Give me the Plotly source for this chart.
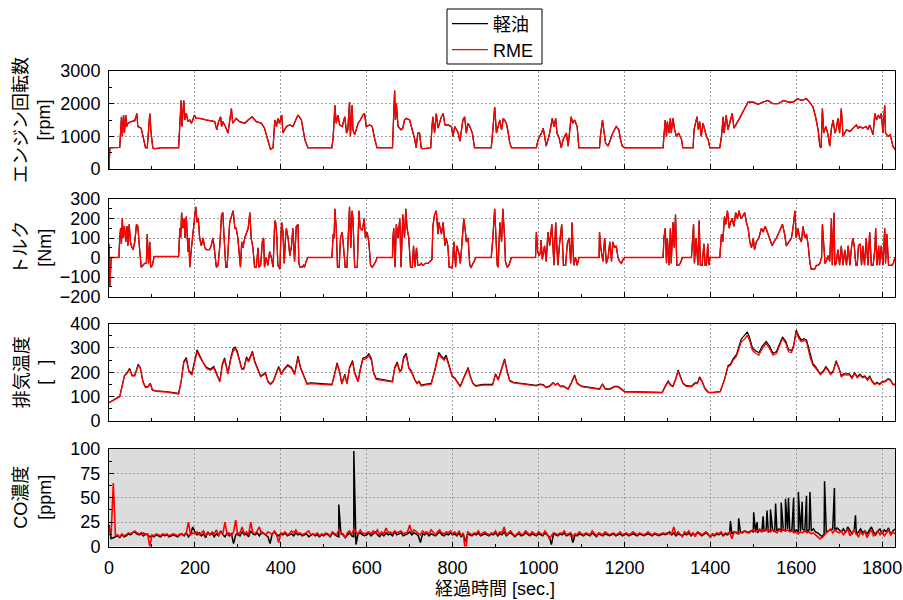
import plotly.graph_objects as go

# ---------------- data ----------------
# Engine speed [rpm]
speed_t = [0, 2, 25, 27, 29, 31, 34, 36, 39, 41, 44, 52, 60, 65, 67, 75, 85, 89, 92, 95, 98, 102, 106, 122, 162,
           165, 168, 170, 174, 177, 180, 184, 188, 192, 199, 203, 211, 227, 246, 251, 255, 260, 262, 265, 271, 277, 281, 285, 288, 296,
           304, 316, 324, 333, 343, 355, 362, 370, 376, 382, 386, 390, 393, 397, 402, 405, 413, 421, 428, 440, 448, 456, 463, 519,
           522, 526, 529, 533, 537, 543, 549, 553, 556, 560, 562, 566, 568, 572, 576, 580, 585, 591, 595, 599, 607, 613, 619, 624, 660,
           661, 665, 667, 669, 673, 677, 680, 684, 688, 692, 700, 708, 712, 715, 719, 723, 727, 731, 749,
           752, 754, 758, 762, 766, 770, 774, 778, 782, 789, 797, 801, 805, 813, 817, 824, 828, 832, 836, 840, 846, 851, 890,
           894, 898, 902, 906, 910, 914, 918, 921, 925, 929, 933, 937, 995,
           999, 1003, 1007, 1011, 1014, 1018, 1026, 1032, 1036, 1040, 1043, 1048, 1053, 1057, 1061, 1065, 1069, 1073, 1076, 1080, 1084, 1090, 1094, 1142,
           1144, 1149, 1152, 1156, 1162, 1167, 1173, 1181, 1187, 1191, 1195, 1201, 1290,
           1292, 1295, 1298, 1300, 1304, 1307, 1309, 1313, 1317, 1321, 1326, 1333, 1336, 1360,
           1362, 1366, 1369, 1372, 1375, 1379, 1383, 1387, 1391, 1395, 1399, 1422,
           1426, 1430, 1432, 1437, 1441, 1445, 1451, 1455, 1462, 1468, 1476, 1484, 1488, 1500, 1511, 1523, 1534, 1546, 1558, 1571, 1581, 1593, 1603, 1612, 1624, 1631, 1639, 1645, 1651, 1655, 1658,
           1661, 1664, 1669, 1674, 1678, 1682, 1686, 1690, 1693, 1697, 1701, 1705, 1709, 1713, 1717, 1725, 1732, 1740, 1744, 1748, 1755, 1763, 1767, 1771, 1775, 1779, 1783, 1787, 1791, 1795, 1798, 1802, 1806, 1808, 1814, 1819, 1825, 1830]
speed_diesel = [0, 650, 660, 1000, 1600, 1000, 1650, 1100, 1650, 1300, 1400, 1450, 1480, 1700, 1300, 1250, 650, 650, 1100, 1700, 1100, 650, 620, 650, 650,
                1400, 2100, 1300, 2100, 1500, 1700, 1450, 1500, 1400, 1650, 1550, 1550, 1500, 1450, 1200, 1450, 1600, 1300, 1450, 1300, 1100, 1550, 1850, 1400, 1550,
                1450, 1400, 1500, 1600, 1450, 1400, 1250, 900, 600, 650, 1500, 1300, 1550, 1400, 1650, 1100, 1300, 1350, 1300, 1650, 1500, 900, 650, 650,
                1000, 1950, 1400, 1650, 1350, 1300, 1600, 1100, 1200, 2050, 1000, 1950, 1200, 1050, 1200, 1400, 1500, 1650, 1700, 1300, 1350, 1300, 900, 650, 650,
                1000, 2400, 1500, 2000, 1300, 1250, 1200, 1250, 1500, 1550, 1500, 1100, 900, 650, 1100, 1100, 650, 620, 650,
                1300, 1600, 1100, 1700, 1250, 1450, 1600, 1700, 1350, 1350, 1300, 1000, 1300, 1100, 850, 1500, 1600, 1100, 1400, 1300, 1100, 650, 650,
                1250, 1900, 1100, 1300, 1500, 1200, 1550, 1500, 1400, 1150, 800, 650, 650,
                900, 1000, 1100, 1250, 1000, 700, 1100, 1550, 1300, 1550, 1100, 950, 650, 900, 1000, 1100, 700, 1200, 1600, 1400, 1500, 1300, 650, 650,
                1000, 1500, 1100, 800, 700, 900, 1100, 1300, 1200, 900, 700, 650, 650,
                1000, 1500, 1000, 1450, 1100, 1550, 1100, 1550, 1200, 1000, 1100, 900, 650, 650,
                1200, 1500, 1600, 1200, 1450, 1000, 1400, 1200, 1000, 900, 650, 650,
                1000, 1600, 1100, 1650, 1200, 1400, 1700, 1250, 1400, 1550, 1750, 1950, 2050, 2050, 1980, 2050, 2100, 2000, 2000, 2100, 2050, 2050, 2150, 2100, 2150, 2050, 1900, 1600, 1200, 700, 650,
                1850, 1100, 1300, 1050, 700, 1250, 1500, 1100, 1200, 1550, 1100, 1850, 1000, 1100, 1200, 1150, 1250, 1350, 1250, 1300, 1250, 1300, 1200, 1350, 1200, 1050, 1700, 1500, 1650, 1550, 1700, 1100, 1950, 1100, 1000, 1050, 700, 600]
speed_rme = list(speed_diesel)  # the two curves coincide in the picture

# Torque [Nm]
torque_t = [0, 2, 5, 23, 25, 27, 29, 31, 33, 36, 39, 42, 44, 47, 50, 52, 56, 60, 64, 67, 71, 75, 79, 83, 87, 89, 92, 95, 97, 101, 105, 162,
            165, 167, 169, 172, 175, 177, 180, 184, 186, 188, 192, 196, 199, 202, 205, 208, 211, 215, 219, 223, 227, 234, 238, 242, 246, 250, 254, 258, 262, 265, 268, 272, 275, 279, 281, 285, 289, 293, 296, 300,
            303, 306, 309, 312, 316, 320, 324, 328, 331, 335, 339, 343, 347, 349, 353, 357, 360, 362, 366, 370, 374, 378, 382, 386, 388, 391, 393, 396, 398, 400,
            402, 405, 408, 411, 413, 417, 421, 425, 428, 432, 436, 440, 442, 445, 449, 453, 455, 459, 463, 519,
            522, 524, 526, 529, 532, 536, 539, 543, 546, 550, 554, 557, 560, 563, 566, 568, 572, 576, 578, 582, 585, 590, 594, 597, 601, 605, 609, 613, 616, 621, 624, 660,
            661, 663, 666, 669, 673, 677, 680, 684, 688, 691, 694, 698, 702, 706, 709, 712, 716, 719, 723, 727, 731, 737, 743, 748, 752,
            754, 758, 762, 766, 768, 771, 774, 778, 782, 785, 789, 792, 796, 799, 803, 807, 810, 815, 818, 822, 826, 829, 832, 836, 840, 843, 846, 850, 854, 890,
            893, 896, 898, 901, 904, 906, 910, 914, 917, 921, 923, 927, 931, 937, 993,
            995, 998, 1001, 1004, 1006, 1009, 1014, 1018, 1022, 1026, 1031, 1036, 1040, 1045, 1049, 1054, 1058, 1063, 1067, 1071, 1075, 1078, 1082, 1086, 1090, 1094, 1141,
            1142, 1145, 1150, 1154, 1158, 1162, 1166, 1170, 1173, 1177, 1181, 1185, 1189, 1193, 1197, 1201, 1290,
            1292, 1295, 1298, 1300, 1304, 1307, 1309, 1313, 1316, 1319, 1322, 1326, 1330, 1335, 1356,
            1358, 1361, 1363, 1367, 1371, 1374, 1377, 1381, 1385, 1388, 1391, 1394, 1397, 1399, 1422,
            1424, 1426, 1429, 1433, 1436, 1440, 1444, 1447, 1451, 1455, 1459, 1463, 1467, 1471, 1475, 1480, 1484, 1488, 1492, 1496, 1500, 1503, 1507, 1513, 1519, 1523, 1528, 1534, 1538, 1544, 1548, 1554, 1562, 1568, 1573, 1577, 1583, 1589, 1593, 1597, 1600, 1604, 1608, 1612, 1616, 1620, 1624, 1628,
            1632, 1635, 1639, 1643, 1647, 1651, 1655, 1659, 1661, 1664, 1667, 1670, 1674, 1678, 1682, 1684, 1688, 1690, 1693, 1697, 1701, 1705, 1709, 1713, 1717, 1721, 1725, 1729, 1732, 1735, 1739, 1742, 1745, 1749, 1752, 1755, 1759, 1763, 1767, 1771, 1775, 1779, 1783, 1785, 1788, 1792, 1794, 1798, 1802, 1806, 1808, 1811, 1815, 1819, 1823, 1826, 1830]
torque_diesel = [70, -150, 0, 0, 100, 150, 70, 200, 100, 160, 80, 160, 60, 170, 80, 60, 40, 80, 170, 160, 50, -50, -40, -30, -30, 120, -30, 80, -50, -40, 5, 5,
                 150, 100, 230, 150, 200, 100, 210, 30, 100, -50, 50, 150, 200, 260, 180, 200, 100, 60, 100, 50, 40, 40, 60, 100, 30, -50, -40, 60, 220, 230, 100, -50, -50, 100, 180, 210, 240, 150, 150, 100,
                 0, -50, 80, 50, 100, 130, 150, 230, 100, 50, -50, -50, 50, -50, -40, 80, 100, -50, 0, -40, 30, 0, -50, 190, 180, 100, -40, -50, -60, 100,
                 180, 130, -30, 100, 150, 100, 10, 60, 150, -20, 160, 170, -30, -50, -50, -40, -50, -20, 0, 0,
                 120, 100, 250, 150, -50, -50, 100, 130, 50, -50, -50, 150, 260, 50, 240, 200, -50, -50, -50, 240, 150, 140, 200, 100, 130, 80, -40, -50, -40, -20, 0, 0,
                 100, 150, -50, 170, 100, 200, -50, 220, 100, 250, 150, 100, -50, -50, 60, -50, 50, -40, -40, -30, -40, -30, -30, -20, -10,
                 160, 220, 240, 120, 180, 150, 120, 180, 60, 100, 60, -50, -50, -55, 80, -50, 60, 20, -30, 80, 200, 150, 80, 100, -40, -50, -40, -20, 0, 0,
                 80, 180, 250, 100, -40, -50, 180, 80, 250, 100, -20, -50, -40, 0, 0,
                 130, 30, 10, 20, 90, -10, 60, -20, 130, 60, 170, -40, 180, -40, 70, 170, -40, -40, 70, 100, -30, 180, -40, 0, -40, 0, 0,
                 130, 50, -20, 100, -30, 0, 80, -20, 80, 50, 60, 0, -20, -30, -10, 0, 0,
                 100, 150, -30, 100, -40, 150, -30, 180, 50, 220, -40, -40, -30, 0, 0,
                 100, 170, -30, 100, -40, 190, -40, -40, 70, -40, -40, 70, -40, 0, 0,
                 80, 120, 80, 210, 170, 240, 150, 180, 200, 160, 230, 200, 240, 200, 210, 230, 180, 150, 80, 50, 100, 40, 80, 100, 150, 130, 160, 120, 100, 60, 80, 100, 140, 170, 120, 60, 80, 100, 160, 240, 100, 150, 100, 80, 160, 100, 120, 60,
                 -30, -60, -60, -60, -40, -40, -30, 0, 170, 50, -30, -20, 10, -20, 200, -40, 230, -40, -30, 40, -40, 60, -40, 40, -40, 60, -40, 60, 100, 60, -40, -40, 60, 70, -40, 60, -40, 100, -40, 130, -40, -40, 40, 150, -40, 60, -40, 60, -40, 150, -30, 120, -40, -40, -40, -30, 0]
torque_rme = list(torque_diesel)  # the two curves coincide in the picture

# Exhaust temperature
temp_t = [0, 9, 17, 25, 31, 36, 42, 48, 54, 60, 68, 73, 79, 85, 91, 96, 101, 110, 133, 162,
          168, 174, 180, 186, 193, 199, 205, 211, 219, 227, 236, 244, 248, 258, 264, 269, 277, 283, 289, 294, 299, 304, 309, 314, 320, 325, 334, 339, 345, 353, 359, 364, 370, 376, 382, 390, 395, 401, 407, 416, 425, 432, 440, 446, 453, 461, 471, 490, 519,
          525, 531, 537, 542, 549, 554, 560, 567, 572, 580, 585, 591, 599, 605, 611, 616, 622, 638, 660,
          665, 671, 677, 681, 686, 692, 698, 704, 712, 717, 722, 727, 735, 750, 758, 764, 768, 774, 780, 785, 793, 799, 805, 812, 818, 824, 830, 836, 841, 847, 854, 871, 893,
          900, 906, 914, 921, 927, 933, 941, 964, 995, 1003, 1011, 1018, 1026, 1034, 1039, 1045, 1051, 1057, 1063, 1069, 1076, 1084, 1090, 1100, 1119, 1142, 1149, 1156, 1166, 1177, 1185, 1193, 1201, 1236, 1267, 1288,
          1295, 1302, 1307, 1313, 1319, 1325, 1330, 1336, 1344, 1356, 1364, 1370, 1375, 1381, 1387, 1395, 1406, 1423,
          1434, 1441, 1447, 1453, 1461, 1467, 1472, 1480, 1486, 1492, 1498, 1506, 1513, 1521, 1530, 1538, 1546, 1554, 1562, 1568, 1576, 1582, 1589, 1594, 1600, 1606, 1612, 1618, 1624, 1628, 1633, 1639, 1645, 1651, 1656, 1663, 1669, 1674, 1680, 1686, 1693, 1700, 1705, 1711, 1717, 1723, 1730, 1736, 1742, 1748, 1754, 1760, 1766, 1771, 1777, 1783, 1788, 1794, 1801, 1806, 1814, 1819, 1825, 1830]
temp_rme = [75, 85, 92, 99, 147, 184, 195, 212, 184, 185, 229, 215, 160, 137, 140, 153, 126, 122, 119, 111,
            160, 238, 253, 201, 190, 242, 284, 263, 236, 215, 208, 218, 201, 160, 229, 252, 192, 249, 286, 297, 277, 249, 212, 212, 256, 242, 281, 242, 215, 181, 188, 195, 160, 149, 160, 195, 219, 190, 208, 226, 215, 190, 259, 215, 181, 151, 153, 151, 147,
            188, 232, 199, 151, 188, 151, 215, 242, 195, 160, 208, 252, 256, 267, 249, 195, 171, 167, 160,
            215, 236, 201, 208, 256, 270, 215, 201, 167, 153, 160, 144, 147, 151, 201, 245, 273, 259, 249, 262, 215, 181, 174, 153, 140, 167, 195, 215, 181, 153, 142, 147, 147,
            190, 167, 215, 249, 201, 164, 156, 151, 144, 149, 147, 136, 142, 156, 147, 153, 140, 142, 136, 130, 153, 185, 153, 141, 136, 130, 149, 130, 130, 140, 140, 130, 119, 118, 116, 116,
            140, 160, 147, 140, 167, 204, 181, 153, 142, 140, 153, 153, 177, 160, 133, 116, 116, 119,
            174, 222, 229, 249, 266, 304, 325, 336, 352, 327, 290, 277, 270, 297, 318, 297, 270, 277, 311, 338, 318, 284, 281, 304, 366, 338, 325, 331, 325, 297, 256, 229, 218, 204, 190, 201, 218, 208, 190, 201, 242, 212, 181, 190, 188, 190, 174, 195, 177, 188, 177, 181, 167, 181, 160, 149, 156, 149, 160, 160, 171, 167, 149, 147]
temp_diesel = [75, 86, 93, 100, 150, 187, 198, 216, 187, 188, 233, 219, 163, 139, 142, 155, 128, 124, 121, 113,
               163, 243, 260, 206, 195, 248, 292, 270, 241, 220, 212, 224, 205, 163, 235, 259, 196, 256, 298, 303, 284, 255, 216, 217, 263, 247, 286, 247, 219, 185, 192, 199, 163, 152, 163, 199, 224, 194, 212, 231, 220, 194, 266, 220, 185, 154, 156, 154, 150,
               192, 238, 203, 154, 192, 154, 220, 248, 199, 163, 213, 258, 263, 276, 256, 199, 175, 170, 163,
               220, 242, 205, 213, 263, 277, 220, 205, 170, 156, 163, 147, 150, 154, 206, 252, 281, 266, 256, 270, 220, 185, 177, 156, 143, 170, 199, 220, 185, 156, 145, 150, 150,
               194, 170, 220, 255, 205, 167, 159, 153, 146, 151, 149, 138, 144, 158, 149, 155, 142, 144, 138, 132, 156, 189, 156, 143, 138, 132, 151, 132, 132, 142, 142, 132, 121, 120, 118, 118,
               143, 164, 150, 143, 171, 209, 185, 156, 145, 143, 156, 156, 181, 163, 136, 119, 118, 121,
               177, 226, 234, 255, 273, 311, 336, 352, 366, 340, 300, 287, 280, 307, 326, 307, 278, 285, 321, 345, 326, 294, 288, 310, 373, 348, 332, 338, 333, 305, 265, 235, 223, 208, 194, 205, 223, 212, 194, 205, 247, 216, 185, 194, 192, 194, 178, 199, 181, 192, 181, 185, 171, 185, 163, 152, 159, 152, 163, 163, 174, 170, 152, 150]

# CO concentration [ppm], sampled every 5 s from 0 to 1830 s
co_t = list(range(0, 1831, 5))
co_diesel = [22, 8, 9, 10, 11, 9, 12, 10, 11, 13, 12, 14, 15, 13, 12, 14, 11, 13, 12, 10,
             11, 10, 12, 11, 10, 12, 11, 12, 10, 11, 12, 11, 10, 12, 13, 11, 14, 10, 13, 20,
             15, 12, 14, 11, 13, 9, 15, 12, 14, 10, 13, 11, 16, 12, 10, 14, 11, 13, 3, 12,
             14, 11, 15, 12, 13, 10, 16, 13, 12, 14, 11, 15, 13, 12, 10, 3, 13, 15, 12, 11,
             13, 12, 14, 11, 12, 13, 11, 14, 12, 13, 11, 12, 13, 10, 12, 13, 11, 12, 10, 12,
             11, 13, 12, 10, 14, 12, 11, 10, 13, 12, 9, 12, 14, 11, 10, 2, 13, 14, 12, 11,
             12, 14, 11, 13, 15, 12, 10, 13, 11, 14, 12, 13, 11, 15, 12, 13, 14, 11, 12, 13,
             15, 12, 14, 13, 11, 4, 13, 12, 14, 11, 13, 12, 11, 13, 15, 12, 11, 13, 12, 14,
             12, 13, 11, 14, 10, 12, 5, 13, 12, 11, 13, 12, 14, 11, 12, 13, 12, 11, 13, 12,
             14, 11, 13, 12, 15, 11, 13, 14, 12, 10, 12, 13, 11, 12, 14, 12, 11, 13, 12, 11,
             13, 12, 11, 14, 12, 10, 2, 13, 12, 11, 13, 12, 14, 11, 12, 13, 4, 12, 11, 13,
             12, 11, 13, 12, 11, 14, 12, 10, 13, 12, 11, 13, 12, 11, 12, 13, 11, 12, 13, 11,
             12, 13, 11, 12, 13, 12, 11, 13, 12, 11, 12, 13, 12, 11, 13, 12, 11, 12, 13, 12,
             13, 15, 12, 14, 11, 13, 12, 11, 13, 12, 14, 11, 13, 12, 14, 13, 11, 13, 14, 12,
             10, 12, 11, 13, 12, 14, 11, 13, 12, 14, 13, 15, 14, 13, 15, 14, 16, 15, 14, 16,
             15, 16, 14, 17, 15, 16, 17, 15, 16, 17, 15, 16, 18, 15, 17, 16, 18, 16, 17, 15,
             17, 15, 16, 18, 16, 15, 17, 16, 18, 15, 14, 12, 10, 13, 15, 16, 17, 18, 16, 19,
             17, 15, 18, 14, 20, 16, 13, 17, 12, 15, 18, 14, 16, 13, 17, 20, 15, 12, 16, 18,
             13, 17, 15, 19, 12, 16, 18]
co_rme = [20, 13, 65, 11, 12, 10, 13, 11, 12, 14, 13, 15, 16, 14, 13, 12, 14, 12, 13, 0,
          12, 11, 13, 12, 11, 13, 12, 13, 11, 12, 13, 12, 11, 13, 12, 12, 14, 25, 12, 14,
          13, 15, 12, 14, 16, 11, 14, 12, 15, 13, 17, 12, 15, 13, 25, 12, 14, 11, 15, 27,
          11, 14, 20, 13, 15, 12, 25, 14, 13, 16, 20, 13, 14, 12, 15, 14, 12, 16, 13, 4,
          14, 13, 15, 12, 13, 16, 14, 17, 13, 14, 12, 13, 15, 16, 12, 13, 12, 14, 11, 13,
          12, 14, 13, 11, 15, 13, 12, 17, 14, 13, 9, 14, 16, 12, 18, 15, 13, 17, 14, 13,
          14, 15, 13, 16, 14, 17, 12, 15, 13, 19, 14, 15, 13, 16, 14, 15, 16, 13, 14, 15,
          22, 14, 17, 15, 13, 12, 16, 14, 15, 13, 17, 14, 12, 15, 17, 14, 13, 15, 14, 16,
          13, 15, 12, 16, 11, 14, -8, 15, 13, 12, 14, 13, 16, 12, 14, 15, 13, 12, 14, 13,
          16, 12, 15, 14, 20, 12, 14, 16, 13, 11, 13, 15, 12, 13, 16, 14, 12, 15, 13, 12,
          15, 13, 12, 16, 13, 8, 11, 14, 13, 12, 14, 13, 16, 12, 13, 14, 10, 13, 12, 15,
          13, 12, 14, 13, 12, 16, 13, 11, 14, 13, 12, 15, 13, 12, 13, 14, 12, 13, 15, 12,
          13, 14, 12, 13, 15, 13, 12, 14, 13, 12, 13, 15, 13, 12, 14, 13, 12, 13, 14, 13,
          14, 13, 13, 20, 12, 15, 13, 10, 15, 13, 16, 12, 14, 10, 15, 14, 12, 14, 15, 13,
          9, 13, 12, 14, 13, 15, 12, 14, 13, 15, 8, 14, 15, 13, 14, 15, 16, 14, 15, 16,
          17, 15, 16, 18, 15, 17, 16, 18, 15, 17, 16, 14, 17, 15, 18, 16, 17, 15, 16, 14,
          15, 13, 15, 14, 16, 14, 15, 13, 14, 12, 10, 8, 9, 12, 14, 16, 18, 14, 17, 15,
          14, 16, 12, 15, 18, 11, 14, 17, 13, 10, 15, 12, 16, 9, 14, 17, 11, 13, 16, 12,
          15, 11, 14, 17, 12, 15, 13]
# narrow diesel CO peaks
co_peak_t = [535, 570, 1447, 1466, 1501, 1509, 1523, 1532, 1540, 1552, 1565, 1575, 1582, 1594, 1605, 1614, 1624, 1632, 1666, 1689, 1738]
co_peak_v = [43, 98, 26, 29, 35, 25, 31, 37, 38, 44, 45, 49, 50, 50, 56, 46, 52, 56, 67, 60, 32]

series_names = ["軽油", "RME"]
x_ticks = [0, 200, 400, 600, 800, 1000, 1200, 1400, 1600, 1800]

assert len(speed_t) == len(speed_diesel)
assert len(torque_t) == len(torque_diesel)
assert len(temp_t) == len(temp_rme) == len(temp_diesel)
assert len(co_t) == len(co_diesel) == len(co_rme)
assert len(co_peak_t) == len(co_peak_v)

# merge diesel CO peaks into the 5-s series
co_d_pairs = sorted(list(zip(co_t, co_diesel)) + list(zip(co_peak_t, co_peak_v)))
co_d_t = [p[0] for p in co_d_pairs]
co_d_v = [p[1] for p in co_d_pairs]

# ---------------- figure ----------------
FONT = "Liberation Sans, Arial, Noto Sans CJK JP, sans-serif"
BLACK = "#000000"
RED = "#ff0000"

fig = go.Figure()

panels = [
    (speed_t, speed_diesel, speed_t, speed_rme, 1.2),
    (torque_t, torque_diesel, torque_t, torque_rme, 1.2),
    (temp_t, temp_diesel, temp_t, temp_rme, 1.2),
    (co_d_t, co_d_v, co_t, co_rme, 1.5),
]
for i, (td, vd, tr, vr, lw) in enumerate(panels):
    xa = "x" if i == 0 else f"x{i+1}"
    ya = "y" if i == 0 else f"y{i+1}"
    fig.add_trace(go.Scatter(x=td, y=vd, mode="lines", name=series_names[0],
                             line=dict(color=BLACK, width=lw), xaxis=xa, yaxis=ya,
                             legend="legend", showlegend=(i == 0)))
    fig.add_trace(go.Scatter(x=tr, y=vr, mode="lines", name=series_names[1],
                             line=dict(color=RED, width=lw + 0.1), xaxis=xa, yaxis=ya,
                             legend="legend2", showlegend=(i == 0)))

W, H = 903, 600
ML, MR = 109, 8
PW = W - ML - MR

def px_to_py(top, bottom):
    return [1 - bottom / H, 1 - top / H]

y_domains = [px_to_py(71, 169), px_to_py(199, 296.5), px_to_py(323.5, 421), px_to_py(449, 546.5)]
y_ranges = [[0, 3000], [-200, 300], [0, 400], [0, 100]]
y_dticks = [1000, 100, 100, 25]
y_minor = [500, 50, 50, 12.5]

common = dict(showline=True, linecolor=BLACK, linewidth=1, mirror=True,
              ticks="inside", ticklen=5, tickcolor=BLACK, tickwidth=1,
              showgrid=True, gridcolor="#a0a0a0", griddash="2px,2px", gridwidth=1,
              zeroline=False, automargin=False,
              tickfont=dict(size=18, color=BLACK, family=FONT))

legend_common = dict(x=(447 - ML) / PW, xanchor="left", yanchor="middle",
                     borderwidth=0, bgcolor="rgba(0,0,0,0)",
                     font=dict(size=18, family=FONT, color=BLACK), itemwidth=36)

layout = dict(width=W, height=H, margin=dict(l=ML, r=MR, t=0, b=0, pad=0, autoexpand=False),
              paper_bgcolor="white", plot_bgcolor="white",
              font=dict(family=FONT, size=18, color=BLACK),
              showlegend=True,
              legend=dict(legend_common, y=1 - 24 / H),
              legend2=dict(legend_common, y=1 - 50 / H))
for i in range(4):
    xk = "xaxis" if i == 0 else f"xaxis{i+1}"
    yk = "yaxis" if i == 0 else f"yaxis{i+1}"
    ya = "y" if i == 0 else f"y{i+1}"
    xa = "x" if i == 0 else f"x{i+1}"
    layout[xk] = dict(common, domain=[0, 1], anchor=ya, range=[0, 1830],
                      tickvals=x_ticks, showticklabels=(i == 3), ticklabelstandoff=5,
                      minor=dict(ticks="inside", ticklen=3, dtick=100, tick0=0, tickcolor=BLACK, showgrid=False))
    if i > 0:
        layout[xk]["matches"] = "x"
    layout[yk] = dict(common, domain=y_domains[i], anchor=xa, range=y_ranges[i],
                      dtick=y_dticks[i], tick0=0, ticklabelstandoff=4,
                      minor=dict(ticks="inside", ticklen=3, dtick=y_minor[i], tick0=0, tickcolor=BLACK, showgrid=False))

fig.update_layout(**layout)

# grey background of the CO panel
fig.add_shape(type="rect", xref="x4 domain", yref="y4 domain", x0=0, x1=1, y0=0, y1=1,
              fillcolor="#dcdcdc", line=dict(width=0), layer="below")
# legend frame
fig.add_shape(type="rect", xref="paper", yref="paper",
              x0=(447 - ML) / PW, x1=(542 - ML) / PW, y0=1 - 64 / H, y1=1 - 9 / H,
              fillcolor="white", line=dict(color=BLACK, width=1), layer="below")

# axis titles
y_titles = ["エンジン回転数<br>[rpm]", "トルク<br>[Nm]", "排気温度<br>[\u00a0\u00a0\u00a0]", "CO濃度<br>[ppm]"]
for i, txt in enumerate(y_titles):
    d = y_domains[i]
    fig.add_annotation(text=txt, xref="paper", yref="paper", x=(33 - ML) / PW, y=(d[0] + d[1]) / 2,
                       xanchor="center", yanchor="middle", textangle=-90, showarrow=False,
                       font=dict(size=18, family=FONT, color=BLACK))
fig.add_annotation(text="経過時間 [sec.]", xref="paper", yref="paper", x=(433 - ML) / PW, y=1 - 589 / H,
                   xanchor="left", yanchor="middle", showarrow=False,
                   font=dict(size=18, family=FONT, color=BLACK))

fig.write_html("out.html")
